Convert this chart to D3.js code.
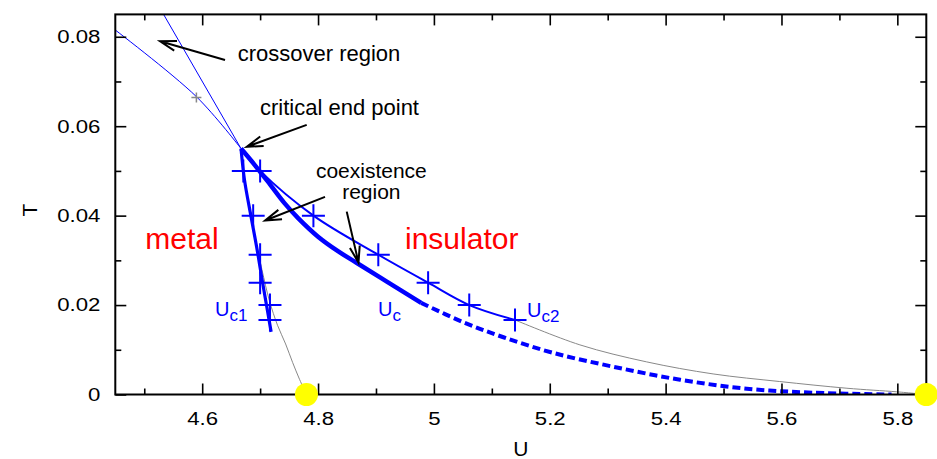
<!DOCTYPE html>
<html><head><meta charset="utf-8">
<script src="https://cdn.jsdelivr.net/npm/d3@7"></script>
<style>
body{margin:0;background:#fff}
svg{display:block}
text{font-family:"Liberation Sans",Arial,Helvetica,sans-serif}
</style>
</head><body>
<svg id="c" width="937" height="459"></svg>
<script>
// ---------- data ----------
const xDomain = [4.45, 5.85];
const yDomain = [0, 0.085];
const xTicks = [4.6, 4.8, 5.0, 5.2, 5.4, 5.6, 5.8];
const xTickLabels = ["4.6", "4.8", "5", "5.2", "5.4", "5.6", "5.8"];
const xMinor = [4.5, 4.7, 4.9, 5.1, 5.3, 5.5, 5.7];
const yTicks = [0, 0.02, 0.04, 0.06, 0.08];
const yTickLabels = ["0", "0.02", "0.04", "0.06", "0.08"];
const yMinor = [0.01, 0.03, 0.05, 0.07];

// temperatures of the DMFT points
const markerT = [0.05, 0.04, 0.03125, 0.025, 0.02, 0.01667];
const uc1U = [4.671, 4.688, 4.700, 4.700, 4.717, 4.717];
const uc2U = [4.700, 4.792, 4.904, 4.990, 5.061, 5.140];

// Uc1 line (thick)
const uc1LineU = [4.667, 4.673, 4.684, 4.694, 4.703, 4.711, 4.719];
const uc1LineT = [0.055, 0.048, 0.040, 0.033, 0.026, 0.020, 0.014];

// Uc2 line
const uc2LineU = [4.667, 4.700, 4.792, 4.904, 4.990, 5.061, 5.140];
const uc2LineT = [0.055, 0.050, 0.040, 0.03125, 0.025, 0.020, 0.01667];

// Uc line: solid part and dashed extrapolation
const ucSolidU = [4.667, 4.6915, 4.717, 4.742, 4.766, 4.800, 4.835, 4.867, 4.918, 4.978];
const ucSolidT = [0.055, 0.0512, 0.0470, 0.0428, 0.0394, 0.0353, 0.0320, 0.0294, 0.0253, 0.0205];
const ucDashU = [4.978, 5.05, 5.12, 5.206, 5.31, 5.425, 5.54, 5.655, 5.79];
const ucDashT = [0.0205, 0.0162, 0.0128, 0.0093, 0.0062, 0.0033, 0.0013, 0.0004, 0.0];

// grey fit curves down to T=0
const grayLeftU = [4.690, 4.703, 4.716, 4.730, 4.744, 4.756, 4.768, 4.780];
const grayLeftT = [0.036, 0.028, 0.021, 0.0155, 0.0113, 0.0072, 0.0034, 0.0];
const grayRightU = [5.140, 5.252, 5.367, 5.482, 5.597, 5.713, 5.799, 5.85];
const grayRightT = [0.01667, 0.0111, 0.0073, 0.0046, 0.0029, 0.0014, 0.0006, 0.0];

// crossover lines from the critical end point
const crossSteepU = [4.667, 4.520];
const crossSteepT = [0.055, 0.088];
const crossFlatU = [4.667, 4.590, 4.440];
const crossFlatT = [0.055, 0.0666, 0.0825];
const crossPoint = [4.590, 0.0664];

// T=0 transition points
const zeroU = [4.78, 5.85];

// annotations
const labelTexts = ["crossover region", "critical end point", "coexistence", "region"];
const labelU = [4.6613, 4.6998, 4.892, 4.892];
const labelT = [0.0745, 0.0624, 0.0484, 0.0437];
const labelAnchor = ["start", "start", "middle", "middle"];

const arrowFromU = [4.6394, 4.7804, 4.812, 4.8495];
const arrowFromT = [0.0748, 0.0603, 0.0442, 0.0409];
const arrowToU = [4.5272, 4.6768, 4.7086, 4.8698];
const arrowToT = [0.0790, 0.0554, 0.0389, 0.0295];

const phaseTexts = ["metal", "insulator"];
const phaseU = [4.5017, 4.9501];
const phaseT = [0.0325, 0.0325];

const ucLabelMain = ["U", "U", "U"];
const ucLabelSub = ["c1", "c", "c2"];
const ucLabelU = [4.6221, 4.9035, 5.1607];
const ucLabelT = [0.0176, 0.0176, 0.0174];

// ---------- chart ----------
const svg = d3.select("#c");
const x = d3.scaleLinear().domain(xDomain).range([115.3, 926.3]);
const y = d3.scaleLinear().domain(yDomain).range([394.5, 14.4]);
const X0 = x.range()[0], X1 = x.range()[1], Y0 = y.range()[0], Y1 = y.range()[1];

svg.append("defs").append("clipPath").attr("id", "plot")
  .append("rect").attr("x", X0).attr("y", Y1).attr("width", X1 - X0).attr("height", Y0 - Y1);

const pts = (us, ts) => us.map((u, i) => [u, ts[i]]);
const line = d3.line().x(d => x(d[0])).y(d => y(d[1]));
const smooth = d3.line().x(d => x(d[0])).y(d => y(d[1])).curve(d3.curveCatmullRom.alpha(0.5));

const g = svg.append("g").attr("clip-path", "url(#plot)");

// grey curves
g.append("path").attr("d", smooth(pts(grayLeftU, grayLeftT)))
  .attr("fill", "none").attr("stroke", "#888").attr("stroke-width", 1);
g.append("path").attr("d", smooth(pts(grayRightU, grayRightT)))
  .attr("fill", "none").attr("stroke", "#888").attr("stroke-width", 1);

// crossover lines
g.append("path").attr("d", line(pts(crossSteepU, crossSteepT)))
  .attr("fill", "none").attr("stroke", "#0000ff").attr("stroke-width", 1);
g.append("path").attr("d", smooth(pts(crossFlatU, crossFlatT)))
  .attr("fill", "none").attr("stroke", "#0000ff").attr("stroke-width", 1);

// Uc2 line
g.append("path").attr("d", smooth(pts(uc2LineU, uc2LineT)))
  .attr("fill", "none").attr("stroke", "#0000ff").attr("stroke-width", 2);
// Uc1 line
g.append("path").attr("d", smooth(pts(uc1LineU, uc1LineT)))
  .attr("fill", "none").attr("stroke", "#0000ff").attr("stroke-width", 3.2);
// Uc solid + dashed
g.append("path").attr("d", smooth(pts(ucSolidU, ucSolidT)))
  .attr("fill", "none").attr("stroke", "#0000ff").attr("stroke-width", 4.5);
g.append("path").attr("d", smooth(pts(ucDashU, ucDashT)))
  .attr("fill", "none").attr("stroke", "#0000ff").attr("stroke-width", 4)
  .attr("stroke-dasharray", "8,4");

// crossover grey marker
const cx0 = x(crossPoint[0]), cy0 = y(crossPoint[1]);
svg.append("path").attr("d", `M${cx0-5},${cy0}H${cx0+5}M${cx0},${cy0-5}V${cy0+5}`)
  .attr("stroke", "#888").attr("stroke-width", 1.5);

// blue markers
const plus = (u, t, s) => { const px = x(u), py = y(t); return `M${px-s},${py}H${px+s}M${px},${py-s}V${py+s}`; };
const markers = pts(uc1U, markerT).concat(pts(uc2U, markerT));
svg.append("g").selectAll("path").data(markers).join("path")
  .attr("d", d => plus(d[0], d[1], 11.5))
  .attr("stroke", "#0000ff").attr("stroke-width", 2).attr("fill", "none");

// axes (inward ticks, mirrored)
const fmtX = d => xTickLabels[xTicks.findIndex(v => Math.abs(v - d) < 1e-9)];
const fmtY = d => yTickLabels[yTicks.findIndex(v => Math.abs(v - d) < 1e-9)];

const axB = svg.append("g").attr("transform", `translate(0,${Y0})`)
  .call(d3.axisBottom(x).tickValues(xTicks).tickFormat(fmtX).tickSizeInner(-11).tickSizeOuter(0).tickPadding(17));
const axBm = svg.append("g").attr("transform", `translate(0,${Y0})`)
  .call(d3.axisBottom(x).tickValues(xMinor).tickFormat("").tickSizeInner(-6).tickSizeOuter(0));
const axT = svg.append("g").attr("transform", `translate(0,${Y1})`)
  .call(d3.axisTop(x).tickValues(xTicks).tickFormat("").tickSizeInner(-11).tickSizeOuter(0));
const axTm = svg.append("g").attr("transform", `translate(0,${Y1})`)
  .call(d3.axisTop(x).tickValues(xMinor).tickFormat("").tickSizeInner(-6).tickSizeOuter(0));
const axL = svg.append("g").attr("transform", `translate(${X0},0)`)
  .call(d3.axisLeft(y).tickValues(yTicks).tickFormat(fmtY).tickSizeInner(-11).tickSizeOuter(0).tickPadding(12.5));
const axLm = svg.append("g").attr("transform", `translate(${X0},0)`)
  .call(d3.axisLeft(y).tickValues(yMinor).tickFormat("").tickSizeInner(-6).tickSizeOuter(0));
const axR = svg.append("g").attr("transform", `translate(${X1},0)`)
  .call(d3.axisRight(y).tickValues(yTicks).tickFormat("").tickSizeInner(-11).tickSizeOuter(0));
const axRm = svg.append("g").attr("transform", `translate(${X1},0)`)
  .call(d3.axisRight(y).tickValues(yMinor).tickFormat("").tickSizeInner(-6).tickSizeOuter(0));

[axB, axBm, axT, axTm, axL, axLm, axR, axRm].forEach(a => {
  a.select(".domain").remove();
  a.selectAll("line").attr("stroke", "#000").attr("stroke-width", 1.6);
  a.selectAll("text").attr("font-family", '"Liberation Sans",Arial,sans-serif')
    .attr("font-size", 18.5).attr("fill", "#000").attr("transform", "scale(1.2,1)");
});

// frame
svg.append("rect").attr("x", X0).attr("y", Y1).attr("width", X1 - X0).attr("height", Y0 - Y1)
  .attr("fill", "none").attr("stroke", "#000").attr("stroke-width", 2);

// yellow T=0 points
svg.append("g").selectAll("circle").data(zeroU).join("circle")
  .attr("cx", d => x(d)).attr("cy", y(0)).attr("r", 11.5).attr("fill", "#ffff00");

// axis titles
svg.append("text").attr("x", (X0 + X1) / 2).attr("y", 456).attr("text-anchor", "middle")
  .attr("font-size", 21).text("U");
svg.append("text").attr("transform", "translate(37,210) rotate(-90)").attr("text-anchor", "middle")
  .attr("font-size", 21).text("T");

// annotations
labelTexts.forEach((t, i) => {
  svg.append("text").attr("x", x(labelU[i])).attr("y", y(labelT[i]))
    .attr("text-anchor", labelAnchor[i]).attr("font-size", i >= 2 ? 21 : 22).attr("fill", "#000").text(t);
});
arrowFromU.forEach((u, i) => {
  const x1 = x(u), y1 = y(arrowFromT[i]), x2 = x(arrowToU[i]), y2 = y(arrowToT[i]);
  const a = Math.atan2(y2 - y1, x2 - x1), L = 17, h = 0.3;
  const bx1 = x2 - L * Math.cos(a - h), by1 = y2 - L * Math.sin(a - h);
  const bx2 = x2 - L * Math.cos(a + h), by2 = y2 - L * Math.sin(a + h);
  svg.append("path").attr("d", `M${x1},${y1}L${x2},${y2}M${bx1},${by1}L${x2},${y2}L${bx2},${by2}`)
    .attr("fill", "none").attr("stroke", "#000").attr("stroke-width", 2);
});

phaseTexts.forEach((t, i) => {
  svg.append("text").attr("x", x(phaseU[i])).attr("y", y(phaseT[i]))
    .attr("font-size", 30).attr("fill", "#ff0000").text(t);
});

ucLabelMain.forEach((t, i) => {
  const tx = svg.append("text").attr("x", x(ucLabelU[i])).attr("y", y(ucLabelT[i]))
    .attr("font-size", 20).attr("fill", "#0000ff");
  tx.append("tspan").text(t);
  tx.append("tspan").attr("font-size", 17).attr("dy", 5).text(ucLabelSub[i]);
});
</script>
</body></html>
